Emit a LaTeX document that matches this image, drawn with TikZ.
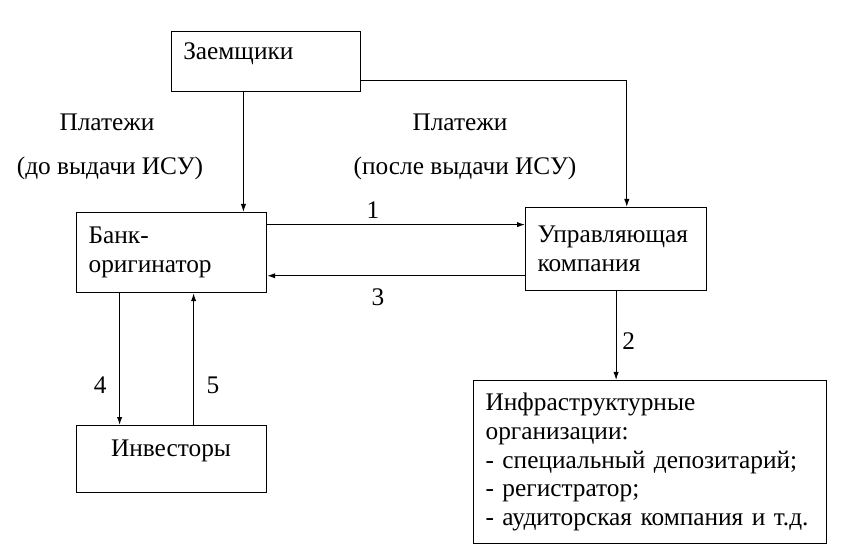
\documentclass[tikz,border=0pt]{standalone}
\usepackage{fontspec}
\setmainfont{Liberation Serif}
\usetikzlibrary{arrows.meta, positioning}

\begin{document}
\begin{tikzpicture}[x=0.75pt, y=-0.75pt, >={Latex[length=6pt,width=4pt]},
    every node/.style={font=\fontsize{19}{21.5}\selectfont},
    box/.style={draw, line width=0.9pt, anchor=north west, inner xsep=9pt, inner ysep=0pt, align=left},
    flow/.style={->, line width=0.8pt}]
  \useasboundingbox (0,0) rectangle (845,555);

  % Boxes
  \node[box, minimum width=141.75pt, minimum height=45pt] (borrow) at (171,31) {};
  \node[anchor=west, inner sep=0pt] (borrowtxt) at (183,54) {Заемщики};
  \node[box, text width=124.5pt, minimum height=60pt] (bank) at (76,212) {Банк-\\оригинатор};
  \node[box, text width=117.75pt, minimum height=62.25pt] (upr) at (525,207) {Управляющая\\компания};
  \node[box, minimum width=142.5pt, minimum height=50.25pt] (invest) at (76,425) {};
  \node[inner sep=0pt] (investtxt) at (171,451) {Инвесторы};
  \node[box, text width=246.75pt, minimum height=122.25pt] (infra) at (473,380)
    {Инфраструктурные\\организации:\\- специальный депозитарий;\\- регистратор;\\- аудиторская компания и т.д.};

  % Payment labels
  \node (payL) at (107,122) {Платежи};
  \node (payLsub) at (110,168) {(до выдачи ИСУ)};
  \node (payR) at (460,122) {Платежи};
  \node (payRsub) at (465,168) {(после выдачи ИСУ)};

  % Payment flows
  \draw[flow] ([xshift=-17pt]borrow.south) -- ([xshift=-17pt]borrow.south |- bank.north);
  \draw[flow] ([yshift=-14pt]borrow.east) -| ([xshift=8pt]upr.north);

  % Numbered flows
  \draw[flow] ([yshift=21pt]bank.east) -- ([yshift=21pt]bank.east -| upr.west)
    node[pos=0.41, above=1pt] {1};
  \draw[flow] ([yshift=-20pt]upr.west) -- ([yshift=-20pt]upr.west -| bank.east)
    node[pos=0.57, below=6pt] {3};
  \draw[flow] (upr.south) -- (upr.south |- infra.north)
    node[pos=0.56, right=1pt] {2};
  \draw[flow] ([xshift=-39pt]bank.south) -- ([xshift=-39pt]bank.south |- invest.north)
    node[pos=0.7, left=6pt] {4};
  \draw[flow] ([xshift=16.5pt]invest.north) -- ([xshift=16.5pt]invest.north |- bank.south)
    node[pos=0.3, right=6pt] {5};
\end{tikzpicture}
\end{document}
